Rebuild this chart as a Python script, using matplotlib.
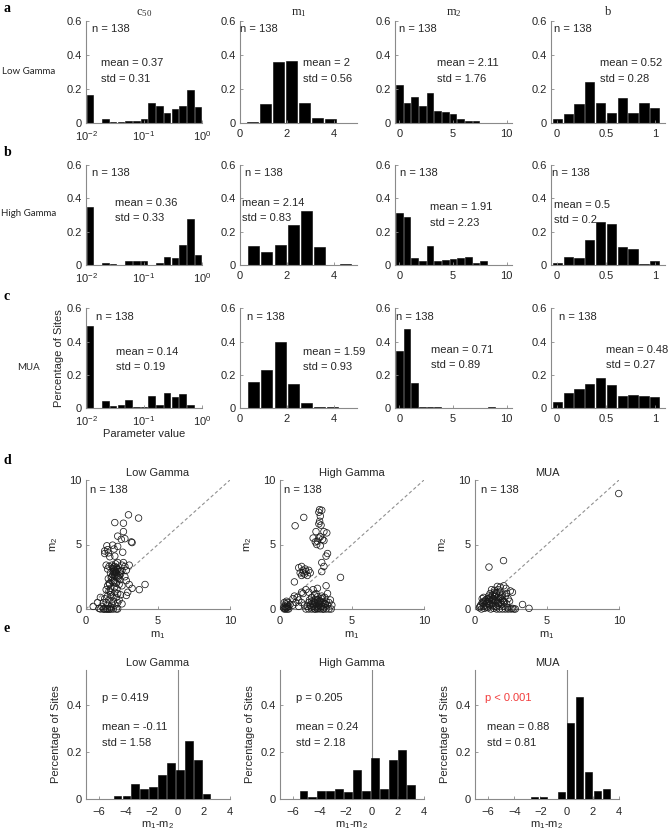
import matplotlib
matplotlib.use("Agg")
import matplotlib.pyplot as plt
from matplotlib.ticker import FormatStrFormatter, NullLocator

plt.rcParams['font.family'] = ['Liberation Sans', 'DejaVu Sans']
plt.rcParams['font.size'] = 8

# ---------------- data ----------------
n_sites = 138
row_names = ["Low Gamma", "High Gamma", "MUA"]
param_titles = [r"$\mathregular{c_{50}}$", r"$\mathregular{m_1}$", r"$\mathregular{m_2}$", "b"]

# bin centres (c50 in log10 units)
c50_log_centres = [-1.933, -1.8, -1.667, -1.533, -1.4, -1.267, -1.133, -1.0,
                   -0.867, -0.733, -0.6, -0.467, -0.333, -0.2, -0.067]
m1_centres_low = [0.53, 1.08, 1.64, 2.19, 2.75, 3.30, 3.86]
m1_centres = [0.59, 1.15, 1.71, 2.27, 2.83, 3.39, 3.95, 4.51]
m2_centres = [0.0, 0.715, 1.43, 2.145, 2.86, 3.575, 4.29, 5.005, 5.72, 6.435, 7.15, 7.865, 8.58]
b_centres = [0.005, 0.115, 0.225, 0.335, 0.445, 0.555, 0.665, 0.775, 0.885, 0.995]

# fraction of sites per bin
low_c50 = [0.165, 0, 0.022, 0.007, 0.007, 0.014, 0.014, 0.022, 0.116, 0.101, 0.058, 0.080, 0.101, 0.196, 0.094]
low_m1 = [0.007, 0.109, 0.355, 0.362, 0.116, 0.029, 0.022]
low_m2 = [0.225, 0.116, 0.152, 0.101, 0.174, 0.072, 0.065, 0.051, 0.022, 0.014, 0.014]
low_b = [0.022, 0.051, 0.109, 0.239, 0.116, 0.058, 0.145, 0.058, 0.116, 0.087]

high_c50 = [0.348, 0, 0.014, 0.007, 0, 0.022, 0.022, 0.022, 0, 0.014, 0.051, 0.043, 0.123, 0.275, 0.058]
high_m1 = [0.116, 0.080, 0.123, 0.239, 0.326, 0.109, 0, 0.007]
high_m2 = [0.312, 0.290, 0.043, 0.022, 0.116, 0.022, 0.029, 0.036, 0.043, 0.051, 0.014, 0.022]
high_b = [0.014, 0.051, 0.043, 0.152, 0.261, 0.246, 0.109, 0.094, 0.007, 0.022]

mua_c50 = [0.493, 0, 0.043, 0.014, 0.022, 0.051, 0.007, 0.007, 0.072, 0.022, 0.094, 0.065, 0.087, 0.022, 0]
mua_m1 = [0.159, 0.232, 0.399, 0.145, 0.029, 0.007, 0.007]
mua_m2 = [0.341, 0.478, 0.152, 0.007, 0.007, 0.007, 0, 0, 0, 0, 0, 0, 0.007]
mua_b = [0.036, 0.094, 0.116, 0.145, 0.181, 0.138, 0.072, 0.080, 0.072, 0.065]

means = [["0.37", "2", "2.11", "0.52"], ["0.36", "2.14", "1.91", "0.5"], ["0.14", "1.59", "0.71", "0.48"]]
stds = [["0.31", "0.56", "1.76", "0.28"], ["0.33", "0.83", "2.23", "0.2"], ["0.19", "0.93", "0.89", "0.27"]]

# m1 vs m2 per site
low_m1_sc = [2.95, 3.65, 2.0, 2.6, 2.6, 2.2, 2.45, 2.7, 3.15, 3.2, 1.45, 1.85, 2.2, 1.3, 1.55, 1.3, 1.65, 2.0,
             2.55, 1.95, 1.5, 1.4, 1.6, 1.5, 1.8, 2.0, 2.2, 1.9, 2.1, 2.0, 1.8, 2.2, 2.4, 2.5, 2.7, 3.0, 2.8,
             1.7, 2.3, 2.0, 2.1, 1.9, 2.6, 2.5, 2.2, 2.35, 2.7, 1.6, 1.9, 2.1, 2.3, 1.5, 1.7, 2.0, 2.5, 2.8,
             1.4, 1.7, 2.0, 2.2, 1.8, 1.5, 2.1, 2.4, 2.9, 2.8, 3.2, 3.7, 4.1, 3.0, 1.6, 1.9, 2.2, 1.3, 1.0,
             1.8, 1.5, 2.0, 1.2, 0.8, 0.5, 1.1, 1.7, 2.3, 2.5, 1.4, 1.0, 1.2, 1.35, 1.5, 1.6, 1.75, 1.9, 2.1,
             2.2, 1.45, 1.65, 1.25, 0.9, 1.95, 2.05, 1.85, 2.15, 1.75, 2.0, 2.1, 1.9, 2.25, 1.8, 2.05, 1.95,
             2.3, 1.6, 1.7, 2.4, 1.55, 1.85, 2.0, 1.65, 2.15]
low_m2_sc = [7.3, 7.05, 6.7, 6.65, 6.0, 5.65, 5.4, 5.45, 5.2, 5.15, 4.9, 4.95, 4.85, 4.5, 4.35, 4.3, 4.05, 4.1,
             4.4, 4.65, 4.6, 3.4, 3.3, 3.1, 3.4, 3.3, 3.1, 2.9, 2.8, 2.6, 2.5, 2.5, 2.7, 3.0, 3.3, 3.4, 3.0,
             2.8, 2.9, 3.0, 3.2, 3.1, 3.6, 3.4, 3.6, 2.3, 2.5, 2.0, 2.1, 2.0, 1.9, 1.8, 1.6, 1.7, 1.8, 2.2,
             1.5, 1.3, 1.3, 1.2, 1.0, 1.0, 0.9, 1.1, 1.3, 1.05, 1.6, 1.5, 1.9, 1.9, 0.7, 0.6, 0.5, 0.8, 0.9,
             0.4, 0.3, 0.3, 0.5, 0.5, 0.2, 0.2, 0.15, 0.7, 0.4, 0.5, 0, 0, 0, 0, 0, 0, 0, 0,
             0, 0, 0, 0, 0.05, 2.75, 2.9, 2.65, 3.05, 2.45, 2.85, 2.55, 3.25, 2.4, 2.2, 3.5, 2.2,
             2.6, 1.4, 1.1, 2.95, 2.35, 3.15, 2.05, 1.95, 1.55]

high_m1_sc = [0.3, 0.4, 0.5, 0.45, 0.35, 0.5, 0.3, 0.6, 0.4, 0.55, 0.25, 0.6, 0.7, 0.45, 0.35, 0.5,
              0.9, 1.0, 1.2, 1.1, 1.3, 1.5, 1.6, 1.0, 0.9, 1.3,
              1.3, 1.5, 1.6, 1.7, 1.8, 1.9, 2.0, 1.5, 1.75, 1.6, 2.1, 1.4,
              1.05, 1.65, 4.2,
              2.75, 2.9, 2.7, 2.8, 2.75, 2.7, 2.85, 3.05, 2.5, 2.7, 3.25, 2.95, 3.05, 2.6, 2.3, 2.55, 3.3,
              3.2, 2.9, 3.05, 2.9, 2.8, 2.45, 2.8,
              2.0, 2.3, 2.6, 3.2, 3.3, 2.4, 2.9, 3.1, 2.2, 2.5, 1.8, 3.5,
              1.8, 2.0, 2.2, 2.4, 2.6, 2.8, 3.0, 3.2, 3.4, 1.9, 2.1, 2.3, 2.5, 2.7, 2.9, 3.1, 3.3, 2.0, 2.2,
              2.4, 2.6, 2.8, 3.0, 3.2, 2.5, 2.7, 2.9, 2.35, 2.65, 3.05, 1.7, 1.5, 2.15, 2.45, 2.85, 3.4, 3.6,
              3.55, 2.05, 2.75, 2.55, 2.65, 2.75, 2.85, 2.95, 3.15, 2.25, 2.45, 2.6, 2.35, 3.0]
high_m2_sc = [0.0, 0.0, 0.0, 0.1, 0.2, 0.3, 0.5, 0.2, 0.4, 0.5, 0.1, 0.0, 0.35, 0.6, 0.05, 0.15,
              0.8, 1.0, 0.9, 0.5, 0.7, 1.3, 1.2, 2.1, 0.3, 0.2,
              3.2, 3.3, 2.8, 2.7, 2.9, 2.6, 3.0, 2.6, 3.1, 3.0, 2.8, 2.8,
              6.45, 7.1, 2.45,
              7.7, 7.65, 7.5, 7.2, 6.8, 6.6, 6.5, 6.0, 6.0, 5.5, 5.9, 5.4, 5.3, 5.25, 5.5, 5.0, 4.3,
              4.1, 3.6, 3.3, 2.9, 5.6, 5.2, 4.9,
              1.3, 1.5, 1.6, 1.8, 1.2, 1.1, 1.0, 0.9, 0.9, 1.2, 1.5, 0.7,
              0.0, 0.0, 0.0, 0.0, 0.0, 0.0, 0.0, 0.0, 0.0, 0.2, 0.3, 0.2, 0.4, 0.3, 0.2, 0.4, 0.3, 0.5, 0.6,
              0.5, 0.7, 0.6, 0.5, 0.6, 0.1, 0.1, 0.45, 0.35, 0.55, 0.15, 0.3, 0.5, 0.15, 0.75, 0.8, 0.5, 0.3,
              0.0, 0.7, 0.4, 0.25, 0.05, 0.65, 0.15, 0.85, 0.35, 0.45, 0.0, 0.95, 0.6, 0.0]

mua_m1_sc = [9.98, 0.97, 1.98, 2.0, 2.15, 2.45, 3.3, 3.75,
             0.3, 0.4, 0.5, 0.6, 0.7, 0.8, 0.9, 1.0, 1.1, 1.2, 1.3, 1.4, 1.5, 1.6, 1.7, 1.8, 1.9, 2.0, 2.1,
             2.2, 2.3, 1.15, 1.35, 1.6, 0.5, 0.6, 0.7, 0.9, 1.0, 1.2, 1.4, 1.6, 1.8, 2.0, 1.25, 1.45, 1.65,
             1.85, 1.05, 0.85, 0.65, 0.45, 1.5, 1.7, 1.9, 2.1, 2.3, 2.5, 2.7, 2.6, 2.8, 1.3, 1.1, 0.95, 2.4,
             2.6, 1.75, 1.55, 1.35, 2.2, 0.75, 0.55, 1.15, 1.25, 1.45, 1.55, 1.85, 0.8, 1.0, 1.9, 0.35,
             1.65, 1.4, 1.2, 1.05, 0.9, 1.75, 2.25, 2.05, 0.6, 1.35, 1.5]
mua_m2_sc = [8.95, 3.25, 3.75, 1.8, 1.6, 1.4, 0.35, 0.05,
             0.1, 0.3, 0.5, 0.2, 0.6, 0.4, 0.8, 0.6, 0.9, 1.1, 0.7, 1.0, 1.2, 0.9, 1.3, 0.8, 1.1, 0.6, 1.0,
             0.4, 0.8, 1.5, 1.45, 1.5, 0.8, 0.9, 0.3, 0.1, 0.3, 0.4, 0.2, 0.3, 0.5, 0.2, 0.8, 0.6, 0.7,
             1.0, 1.2, 0.55, 0.05, 0.0, 0.0, 0.0, 0.0, 0.0, 0.0, 0.0, 0.0, 0.05, 0.0, 0.05, 0.0, 1.0, 0.6,
             1.3, 1.7, 1.75, 1.3, 1.2, 0.7, 0.45, 0.65, 0.25, 1.25, 0.55, 0.35, 0.15, 0.85, 0.7, 0.2,
             0.45, 0.65, 0.75, 0.35, 0.4, 0.9, 0.1, 0.55, 0.6, 0.95, 0.15]

# m1 - m2 distributions
diff_centres_low = [-4.6, -3.92, -3.24, -2.55, -1.87, -1.19, -0.51, 0.17, 0.86, 1.54, 2.22]
diff_low = [0.014, 0.014, 0.065, 0.043, 0.050, 0.101, 0.152, 0.123, 0.246, 0.167, 0.022]
diff_centres_high = [-5.22, -4.54, -3.85, -3.17, -2.48, -1.80, -1.11, -0.43, 0.26, 0.94, 1.63, 2.31, 3.0]
diff_high = [0.036, 0.007, 0.036, 0.036, 0.043, 0.029, 0.123, 0.036, 0.174, 0.043, 0.167, 0.210, 0.058]
diff_centres_mua = [-2.45, -1.76, -0.38, 0.31, 0.99, 1.68, 2.37, 3.06]
diff_mua = [0.007, 0.007, 0.029, 0.326, 0.435, 0.116, 0.036, 0.043]
p_texts = ["p = 0.419", "p = 0.205", "p < 0.001"]
diff_means = ["-0.11", "0.24", "0.88"]
diff_stds = ["1.58", "2.18", "0.81"]

# ---------------- figure ----------------
W, H = 669, 839
fig = plt.figure(figsize=(W / 100, H / 100), dpi=100)
TXT = '#262626'
AXC = '#8a8a8a'


def px_axes(left, top, width, bottom):
    return fig.add_axes([left / W, 1 - bottom / H, width / W, (bottom - top) / H])


def style(ax, xpad=3.5):
    for s in ('top', 'right'):
        ax.spines[s].set_visible(False)
    for s in ('left', 'bottom'):
        ax.spines[s].set_color(AXC)
        ax.spines[s].set_linewidth(0.8)
    ax.tick_params(direction='in', length=2.5, width=0.6, color=AXC,
                   labelcolor=TXT, labelsize=8)
    ax.tick_params(axis='y', pad=3)
    ax.tick_params(axis='x', pad=xpad)


hist_lefts = [86, 240, 395, 551]
hist_widths = [116, 117, 117, 114]
hist_tops = [20.7, 165, 308.3]
hist_bottoms = [123, 265, 408.3]

rows = [[low_c50, low_m1, low_m2, low_b],
        [high_c50, high_m1, high_m2, high_b],
        [mua_c50, mua_m1, mua_m2, mua_b]]
m1_sets = [m1_centres_low, m1_centres, m1_centres]

n_x = [[0.05, 0.0, 0.03, 0.03], [0.05, 0.04, 0.04, 0.01], [0.09, 0.06, 0.01, 0.07]]
stat_x = [[0.13, 0.54, 0.36, 0.43], [0.25, 0.02, 0.30, 0.03], [0.26, 0.54, 0.31, 0.48]]
stat_y = [[(0.35, 0.26)] * 4,
          [(0.37, 0.28), (0.37, 0.28), (0.35, 0.25), (0.36, 0.27)],
          [(0.34, 0.25), (0.34, 0.25), (0.35, 0.26), (0.35, 0.26)]]
xlims = [(0.01, 1), (0, 5), (-0.4, 10.5), (-0.06, 1.1)]
xticks = [[0.01, 0.1, 1], [0, 2, 4], [0, 5, 10], [0, 0.5, 1]]
letters = ['a', 'b', 'c']
letter_y = [8, 153, 297]
rowlab_y = [71, 214, 367]

for r in range(3):
    for c in range(4):
        ax = px_axes(hist_lefts[c], hist_tops[r], hist_widths[c], hist_bottoms[r])
        style(ax, xpad=4.2)
        vals = rows[r][c]
        if c == 0:
            hw = 0.85 * 0.1333 / 2
            lefts = [10 ** (v - hw) for v in c50_log_centres]
            widths = [10 ** (v + hw) - 10 ** (v - hw) for v in c50_log_centres]
            ax.set_xscale('log')
            ax.bar(lefts, vals, width=widths, align='edge', color='black',
                   edgecolor='black', linewidth=0.4)
            ax.xaxis.set_minor_locator(NullLocator())
        elif c == 1:
            cen = m1_sets[r][:len(vals)]
            ax.bar(cen, vals, width=0.47, color='black', edgecolor='black', linewidth=0.4)
        elif c == 2:
            cen = m2_centres[:len(vals)]
            ax.bar(cen, vals, width=0.61, color='black', edgecolor='black', linewidth=0.4)
        else:
            ax.bar(b_centres, vals, width=0.095, color='black', edgecolor='black', linewidth=0.4)
        ax.set_xlim(*xlims[c])
        ax.set_xticks(xticks[c])
        if c != 0:
            ax.xaxis.set_major_formatter(FormatStrFormatter('%g'))
        ax.set_ylim(0, 0.6)
        ax.set_yticks([0, 0.2, 0.4, 0.6])
        ax.yaxis.set_major_formatter(FormatStrFormatter('%g'))
        tr = ax.get_yaxis_transform()
        ax.text(n_x[r][c], 0.55, "n = %d" % n_sites, transform=tr, ha='left', va='center', color=TXT)
        ax.text(stat_x[r][c], stat_y[r][c][0], "mean = " + means[r][c], transform=tr,
                ha='left', va='center', color=TXT)
        ax.text(stat_x[r][c], stat_y[r][c][1], "std = " + stds[r][c], transform=tr,
                ha='left', va='center', color=TXT)
        if r == 0:
            ax.set_title(param_titles[c], family='Liberation Serif', fontsize=9, color=TXT, pad=4)
        if r == 2 and c == 0:
            ax.set_ylabel("Percentage of Sites", color=TXT, labelpad=2)
            ax.set_xlabel("Parameter value", color=TXT, labelpad=1)
    fig.text(4 / W, 1 - letter_y[r] / H, letters[r], family='Liberation Serif',
             weight='bold', fontsize=10, va='center', ha='left')
    fig.text(29 / W, 1 - rowlab_y[r] / H, row_names[r], family='Lato', fontsize=7,
             va='center', ha='center', color=TXT)

# ---------------- scatter m1 vs m2 ----------------
sc_lefts = [86, 280, 475]
sc_width = 144
scatter_x = [low_m1_sc, high_m1_sc, mua_m1_sc]
scatter_y = [low_m2_sc, high_m2_sc, mua_m2_sc]
n_sc_x = [0.03, 0.03, 0.04]
for i in range(3):
    ax = px_axes(sc_lefts[i], 480, sc_width, 609)
    style(ax, xpad=5)
    ax.plot([0, 10], [0, 10], color='#909090', lw=0.8, dashes=(3, 2.2))
    ax.scatter(scatter_x[i], scatter_y[i], s=22, facecolors='none', edgecolors='#1a1a1a',
               linewidths=0.55, clip_on=False, zorder=3)
    ax.set_xlim(0, 10)
    ax.set_ylim(0, 10)
    ax.set_xticks([0, 5, 10])
    ax.set_yticks([0, 5, 10])
    ax.set_title(row_names[i], color=TXT, fontsize=8, pad=3)
    ax.set_xlabel(r"$\mathregular{m_1}$", color=TXT, labelpad=2)
    ax.set_ylabel(r"$\mathregular{m_2}$", color=TXT, labelpad=7)
    ax.text(n_sc_x[i], 9.2, "n = %d" % n_sites, transform=ax.get_yaxis_transform(),
            ha='left', va='center', color=TXT)
fig.text(4 / W, 1 - 460 / H, 'd', family='Liberation Serif', weight='bold', fontsize=10,
         va='center', ha='left')

# ---------------- m1 - m2 histograms ----------------
diff_centres = [diff_centres_low, diff_centres_high, diff_centres_mua]
diff_vals = [diff_low, diff_high, diff_mua]
p_x = [0.11, 0.11, 0.07]
st_x = [0.11, 0.11, 0.08]
p_colors = [TXT, TXT, '#f23c3c']
for i in range(3):
    ax = px_axes(sc_lefts[i], 670, sc_width, 799)
    style(ax, xpad=5.5)
    ax.axvline(0, color='#8a8a8a', lw=0.8)
    ax.bar(diff_centres[i], diff_vals[i], width=0.58, color='black', edgecolor='black',
           linewidth=0.4, zorder=3)
    ax.set_xlim(-7, 4)
    ax.set_ylim(0, 0.55)
    ax.set_xticks([-6, -4, -2, 0, 2, 4])
    ax.set_yticks([0, 0.2, 0.4])
    ax.yaxis.set_major_formatter(FormatStrFormatter('%g'))
    ax.set_title(row_names[i], color=TXT, fontsize=8, pad=3)
    ax.set_xlabel(r"$\mathregular{m_1}$-$\mathregular{m_2}$", color=TXT, labelpad=2)
    ax.set_ylabel("Percentage of Sites", color=TXT, labelpad=4)
    tr = ax.get_yaxis_transform()
    ax.text(p_x[i], 0.43, p_texts[i], transform=tr, ha='left', va='center', color=p_colors[i])
    ax.text(st_x[i], 0.306, "mean = " + diff_means[i], transform=tr, ha='left', va='center', color=TXT)
    ax.text(st_x[i], 0.24, "std = " + diff_stds[i], transform=tr, ha='left', va='center', color=TXT)
fig.text(4 / W, 1 - 628 / H, 'e', family='Liberation Serif', weight='bold', fontsize=10,
         va='center', ha='left')

fig.savefig("out.png", dpi=100, facecolor='white')
